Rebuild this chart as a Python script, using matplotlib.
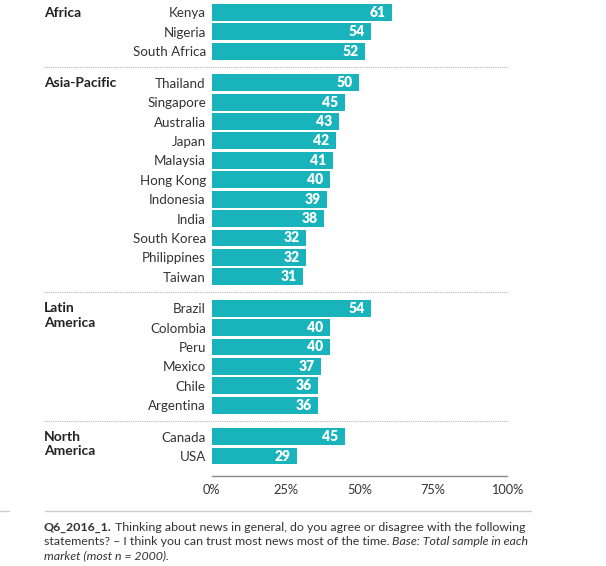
import numpy as np
import matplotlib
matplotlib.use("Agg")
import matplotlib.pyplot as plt

plt.rcParams['font.family'] = ['Lato', 'DejaVu Sans']

# data
regions = ['Africa', 'Asia-Pacific', 'Latin\nAmerica', 'North\nAmerica']
countries = [
    ['Kenya', 'Nigeria', 'South Africa'],
    ['Thailand', 'Singapore', 'Australia', 'Japan', 'Malaysia', 'Hong Kong',
     'Indonesia', 'India', 'South Korea', 'Philippines', 'Taiwan'],
    ['Brazil', 'Colombia', 'Peru', 'Mexico', 'Chile', 'Argentina'],
    ['Canada', 'USA'],
]
values = [
    [61, 54, 52],
    [50, 45, 43, 42, 41, 40, 39, 38, 32, 32, 31],
    [54, 40, 40, 37, 36, 36],
    [45, 29],
]
xticks = [0, 25, 50, 75, 100]
xtick_labels = ['0%', '25%', '50%', '75%', '100%']

bar_color = '#19b3bc'
text_color = '#333333'
W, H = 606, 566

fig = plt.figure(figsize=(W / 100, H / 100), dpi=100)
ax = fig.add_axes([211.7 / W, 1 - 476 / H, 295.3 / W, 476 / H])

# row positions with a gap between regions
gap = 1.62
pos = []
group_start = []
seps = []
y = 0.0
for gi, grp in enumerate(countries):
    if gi > 0:
        seps.append(y - 1 + gap / 2)
        y += gap - 1
    group_start.append(y)
    for _ in grp:
        pos.append(y)
        y += 1

all_names = [c for grp in countries for c in grp]
all_vals = [v for grp in values for v in grp]

ax.barh(pos, all_vals, height=0.87, color=bar_color)
for p, v in zip(pos, all_vals):
    ax.annotate(str(v), (v, p), xytext=(-4.5, 0), textcoords='offset points',
                ha='right', va='center', color='white', fontsize=10,
                fontweight='heavy')

ax.set_xlim(0, 100)
ax.set_ylim(23.89, -0.644)
ax.set_yticks(pos, all_names)
ax.set_xticks(xticks, xtick_labels)
ax.tick_params(axis='y', length=0, pad=4.2, labelsize=9.6, labelcolor=text_color)
ax.tick_params(axis='x', length=0, pad=6, labelsize=9.2, labelcolor=text_color)
for s in ['top', 'right', 'left']:
    ax.spines[s].set_visible(False)
ax.spines['bottom'].set_color('#8a8a8a')
ax.spines['bottom'].set_linewidth(1.0)

# dotted separators between regions
x0 = (44 - 211.7) / 295.3
x1 = (508 - 211.7) / 295.3
trans = ax.get_yaxis_transform()
for s in seps:
    ax.plot([x0, x1], [s, s], transform=trans, clip_on=False,
            color='#b5b5b5', lw=0.8, ls=(0, (1, 1)))

# region labels
for r, gs in zip(regions, group_start):
    ax.text(x0, gs - 0.3, r, transform=trans, ha='left', va='top',
            fontsize=10, fontweight='bold', color='#222222', linespacing=1.25)

# footnote
fig.add_artist(plt.Line2D([45 / W, 531 / W], [1 - 511 / H] * 2,
                          color='#cccccc', lw=1))
fig.add_artist(plt.Line2D([0, 9 / W], [1 - 511 / H] * 2,
                          color='#cccccc', lw=1))
fs = 8.9
t1 = fig.text(44 / W, 1 - 531 / H, 'Q6_2016_1.', fontsize=fs,
              fontweight='bold', color=text_color, va='baseline')
ax.annotate(' Thinking about news in general, do you agree or disagree with the following',
            xy=(1, 0), xycoords=t1, va='bottom', ha='left',
            fontsize=fs, color=text_color, annotation_clip=False)
t2 = fig.text(44 / W, 1 - 545 / H,
              'statements? \u2013 I think you can trust most news most of the time. ',
              fontsize=fs, color=text_color, va='baseline')
ax.annotate('Base: Total sample in each', xy=(1, 0), xycoords=t2,
            va='bottom', ha='left', fontsize=fs, fontstyle='italic',
            color=text_color, annotation_clip=False)
fig.text(44 / W, 1 - 559 / H, 'market (most n = 2000).', fontsize=fs,
         fontstyle='italic', color=text_color, va='baseline')

fig.savefig('out.png', dpi=100)
